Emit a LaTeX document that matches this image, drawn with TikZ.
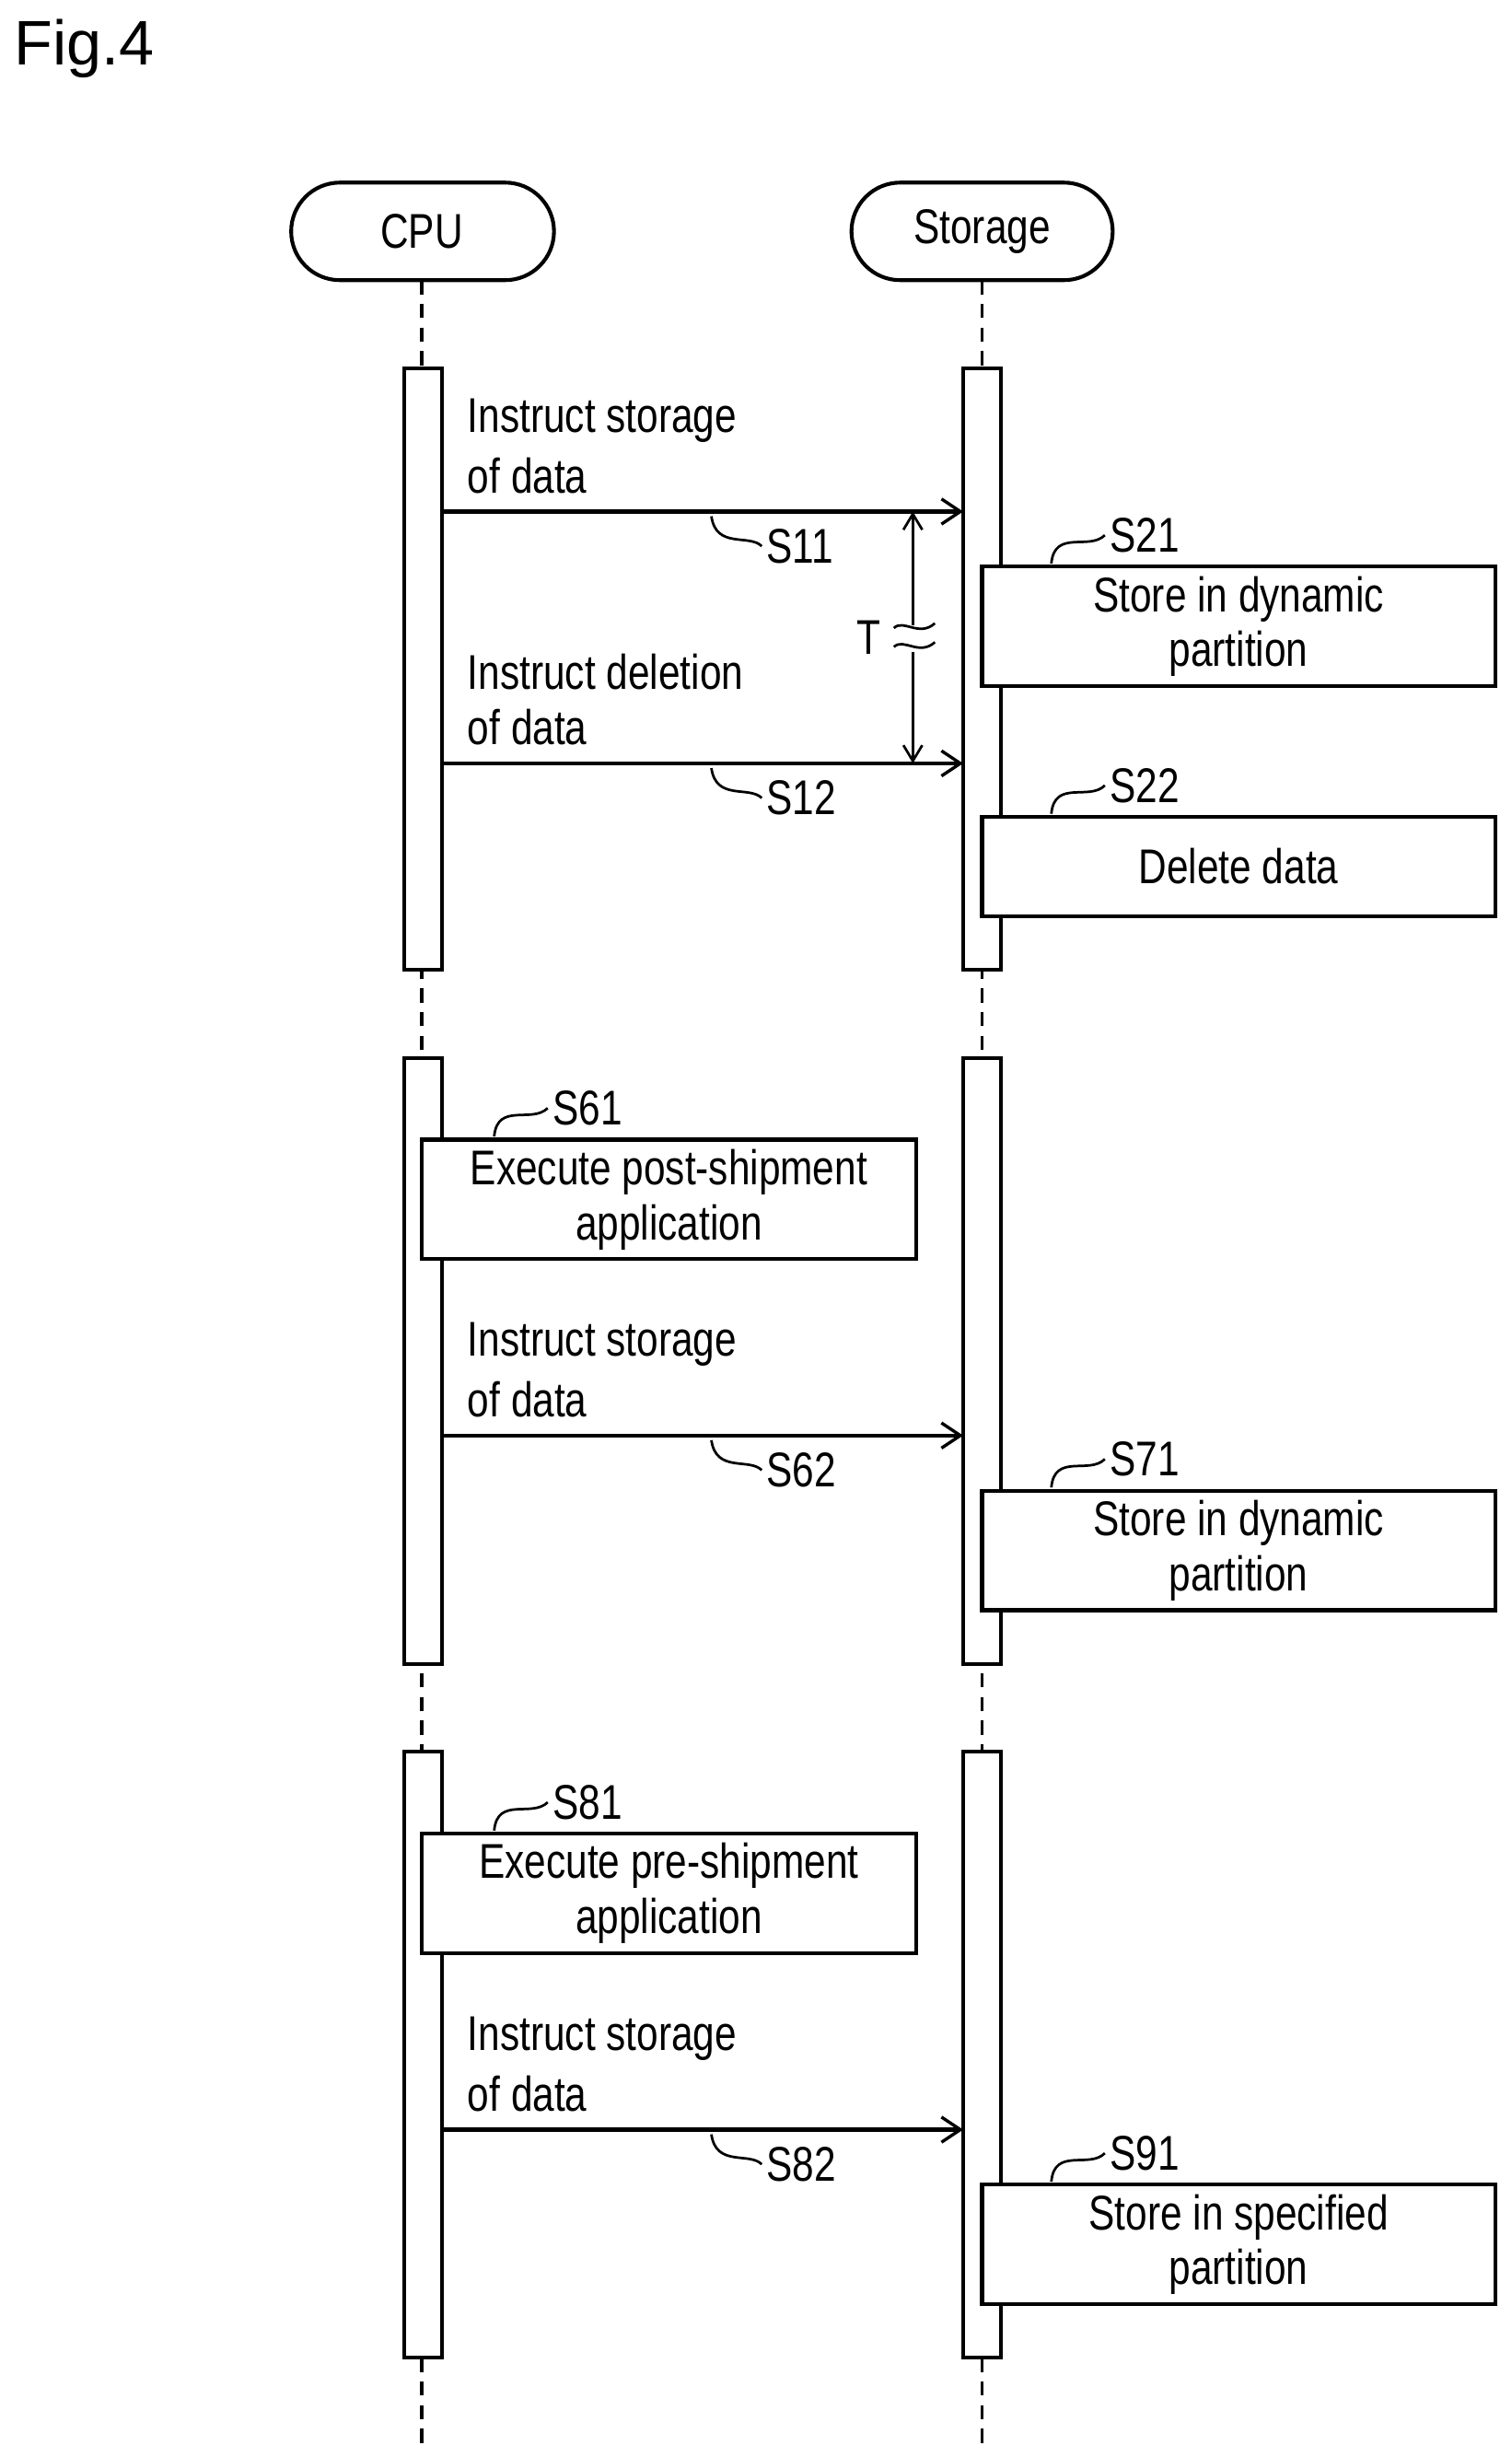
\documentclass[tikz,border=0pt]{standalone}
\usepackage{fontspec}
\setmainfont{Liberation Sans}[FakeStretch=0.8]
\newfontfamily\figfont{Liberation Sans}
\usetikzlibrary{arrows.meta}
\begin{document}
\begin{tikzpicture}[x=1pt,y=-1pt,line width=2.4pt,
  txt/.style={font=\fontsize{31}{35}\selectfont,inner sep=0pt,anchor=west},
  lbl/.style={font=\fontsize{31}{35}\selectfont,inner sep=0pt,anchor=west},
  bar/.style={draw,fill=white,line width=2.4pt},
  box/.style={draw,fill=white,line width=2.4pt},
  life/.style={line width=2pt,dash pattern=on 9pt off 6pt},
  msg/.style={-{Straight Barb[length=12pt,width=16pt,line width=2pt]}},
  sq/.style={line width=1.6pt}]
\useasboundingbox (0,0) rectangle (960.4,1561);
\node[font=\figfont\fontsize{40}{44}\selectfont,inner sep=0pt,anchor=west] (fig) at (8,31) {Fig.4};
% actors
\draw[line width=2.4pt,rounded corners=31pt] (185,116) rectangle (352,178);
\node[txt,anchor=center] (cpu) at (268,147) {CPU};
\draw[line width=2.4pt,rounded corners=31pt] (541,116) rectangle (707,178);
\node[txt,anchor=center] (sto) at (624,147) {Storage};
\coordinate (cpuTop) at (268,178); \coordinate (cpuBot) at (268,1556);
\coordinate (stoTop) at (624,178); \coordinate (stoBot) at (624,1556);
\draw[life] (cpuTop) -- (cpuBot);
\draw[life] (stoTop) -- (stoBot);
% activation bars
\foreach \a/\b [count=\i] in {234/616,672/1057,1113/1498}{
  \draw[bar] (257,\a) rectangle (281,\b);
  \draw[bar] (612,\a) rectangle (636,\b);
}
% messages
\foreach \y/\s/\l in {325/S11/{Instruct storage},485/S12/{Instruct deletion},912/S62/{Instruct storage},1353/S82/{Instruct storage}}{
  \coordinate (m\s a) at (281,\y); \coordinate (m\s b) at (612,\y);
  \draw[msg] (m\s a) -- (m\s b);
  \node[txt] (t\s) at (296,\y-58) {\l};
  \node[txt] (u\s) at (296,\y-23) {of data};
  \draw[sq] (452,\y+3) .. controls (455,\y+24) and (476,\y+14) .. (484,\y+22);
  \node[lbl] (l\s) at (486,\y+22) {\s};
}
% T marker
\coordinate (Ta) at (580,325); \coordinate (Tb) at (580,485);
\draw[line width=1.6pt,{Straight Barb[length=10pt,width=12pt]}-{Straight Barb[length=10pt,width=12pt]}] (Ta) -- (Tb);
\fill[white] (570,397) rectangle (592,414);
\draw[line width=1.6pt] (568,399) .. controls (574,393) and (584,405) .. (594,396);
\draw[line width=1.6pt] (568,411) .. controls (574,405) and (584,417) .. (594,408);
\node[lbl] (T) at (543,405) {T};
% storage boxes
\foreach \a/\b/\s/\t in {360/436/S21/{Store in dynamic\\partition},519/582/S22/{Delete data},947/1023/S71/{Store in dynamic\\partition},1388/1464/S91/{Store in specified\\partition}}{
  \draw[box] (624,\a) rectangle (950,\b);
  \node[txt,anchor=center,align=center] (b\s) at (787,{(\a+\b)/2}) {\t};
  \draw[sq] (668,\a-2) .. controls (670,\a-24) and (692,\a-10) .. (702,\a-20);
  \node[lbl] (l\s) at (704,\a-20) {\s};
}
% cpu boxes
\foreach \a/\b/\s/\t in {724/800/S61/{Execute post-shipment\\application},1165/1241/S81/{Execute pre-shipment\\application}}{
  \draw[box] (268,\a) rectangle (582,\b);
  \node[txt,anchor=center,align=center] (b\s) at (425,{(\a+\b)/2}) {\t};
  \draw[sq] (314,\a-2) .. controls (316,\a-24) and (338,\a-10) .. (348,\a-20);
  \node[lbl] (l\s) at (350,\a-20) {\s};
}
\end{tikzpicture}
\end{document}
